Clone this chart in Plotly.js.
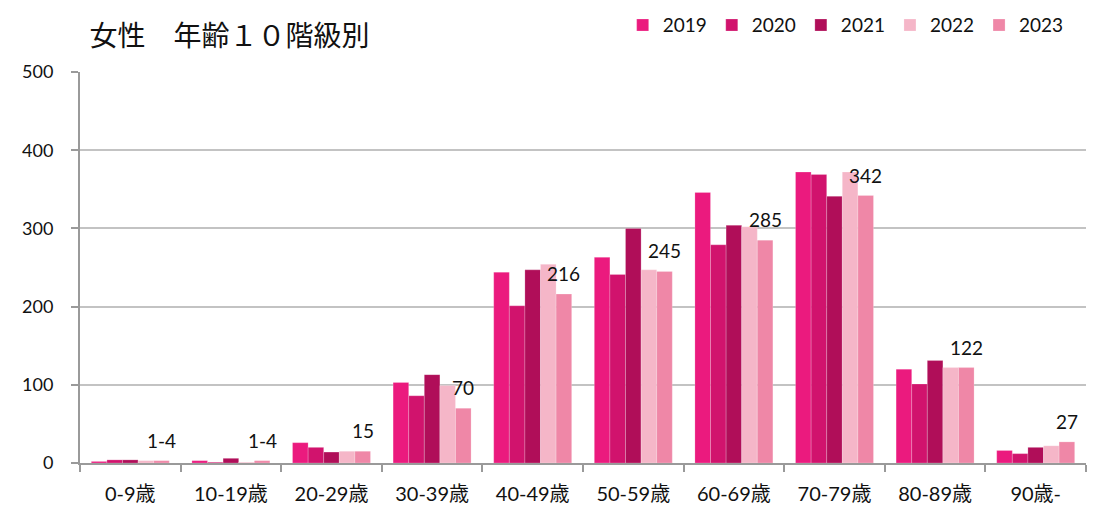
<!DOCTYPE html>
<html>
<head>
<meta charset="utf-8">
<script src="https://cdn.plot.ly/plotly-3.0.1.min.js"></script>
<style>html,body{margin:0;padding:0;background:#fff;}#chart{width:1104px;height:524px;}</style>
</head>
<body>
<div id="chart"></div>
<script>
const categories = ["0-9歳","10-19歳","20-29歳","30-39歳","40-49歳","50-59歳","60-69歳","70-79歳","80-89歳","90歳-"];
const years = ["2019","2020","2021","2022","2023"];
const v2019 = [2, 3, 26, 103, 244, 263, 346, 372, 120, 16];
const v2020 = [4, 1, 20, 86, 201, 241, 279, 369, 101, 12];
const v2021 = [4, 6, 14, 113, 247, 300, 304, 341, 131, 20];
const v2022 = [3, 1, 15, 99, 254, 247, 302, 372, 122, 22];
const v2023 = [3, 3, 15, 70, 216, 245, 285, 342, 122, 27];
const labels2023 = ["1-4","1-4","15","70","216","245","285","342","122","27"];
const colors = ["#EB1A7E", "#D1136D", "#B00E59", "#F5B6C8", "#EF87A7"];

const series = [v2019, v2020, v2021, v2022, v2023];
const bargap = 0.225;
const fontFam = "Lato, 'Noto Sans CJK JP', sans-serif";

const traces = series.map((vals, i) => ({
  type: "bar",
  name: years[i],
  x: categories,
  y: vals,
  marker: {color: colors[i], line: {color: "rgba(255,255,255,0.35)", width: 0.6}},
  hoverinfo: "x+y+name"
}));

const barW = (1 - bargap) / years.length;
const lastOffset = (years.length - 1 - (years.length - 1) / 2) * barW;
const annotations = labels2023.map((t, i) => ({
  x: i + lastOffset,
  y: v2023[i],
  xref: "x", yref: "y",
  text: t,
  showarrow: false,
  yanchor: "bottom",
  yshift: 7,
  font: {family: fontFam, size: 19, color: "#111"}
}));

const layout = {
  width: 1104, height: 524,
  margin: {l: 80, r: 18, t: 72, b: 61, autoexpand: false},
  paper_bgcolor: "#fff", plot_bgcolor: "#fff",
  barmode: "group",
  bargap: bargap,
  bargroupgap: 0,
  font: {family: fontFam, size: 18, color: "#111"},
  title: {
    text: "女性　年齢１０階級別",
    xref: "container", yref: "container",
    x: 0.081, xanchor: "left",
    y: 0.93, yanchor: "middle",
    font: {family: "'Noto Sans CJK JP', sans-serif", size: 28, color: "#111"}
  },
  showlegend: true,
  legend: {
    orientation: "h",
    xref: "container", yref: "container",
    x: 0.968, xanchor: "right",
    y: 0.952, yanchor: "middle",
    font: {family: fontFam, size: 19, color: "#111"},
    traceorder: "normal",
    itemwidth: 30
  },
  xaxis: {
    type: "category",
    showline: true, linecolor: "#9a9a9a", linewidth: 2,
    ticks: "outside", ticklen: 7, tickcolor: "#9a9a9a", tickwidth: 2,
    tickson: "boundaries",
    ticklabelstandoff: 12,
    tickfont: {family: fontFam, size: 20, color: "#111"},
    showgrid: false,
    automargin: false
  },
  yaxis: {
    range: [0, 500],
    tickvals: [0, 100, 200, 300, 400, 500],
    showline: true, linecolor: "#9a9a9a", linewidth: 2,
    ticks: "outside", ticklen: 7, tickcolor: "#9a9a9a", tickwidth: 2,
    ticklabelstandoff: 14,
    showgrid: true, gridcolor: "#c3c3c3", gridwidth: 2,
    zeroline: false,
    tickfont: {family: fontFam, size: 18, color: "#111"},
    automargin: false
  },
  annotations: annotations
};

Plotly.newPlot("chart", traces, layout, {displayModeBar: false, staticPlot: true});
</script>
</body>
</html>
